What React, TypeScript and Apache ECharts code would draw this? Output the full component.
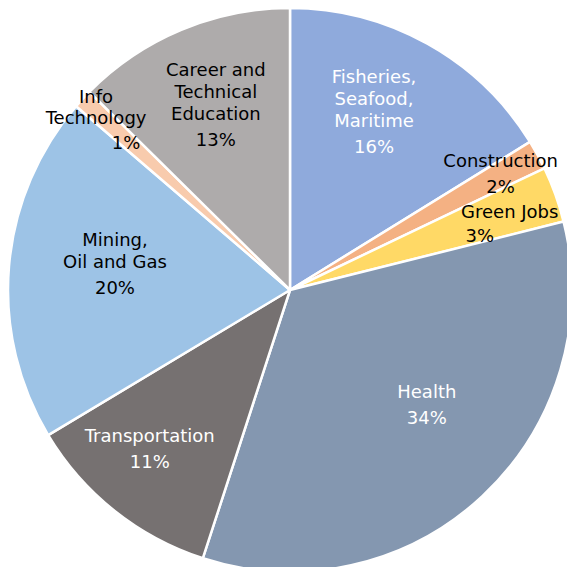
import React, { useEffect, useRef } from "react";
import * as echarts from "echarts";

// Data (clockwise from 12 o'clock)
const categories = [
  "Fisheries,\nSeafood,\nMaritime",
  "Construction",
  "Green Jobs",
  "Health",
  "Transportation",
  "Mining,\nOil and Gas",
  "Info\nTechnology",
  "Career and\nTechnical\nEducation",
];
const shares = [16.2, 1.7, 3.2, 33.9, 11.4, 19.9, 1.1, 12.6];

// Styles
const sliceColors = ["#8FAADC", "#F4B183", "#FFD966", "#8497B0", "#767171", "#9DC3E6", "#F8CBAD", "#AEABAB"];
const labelTones = ["w", "k", "k", "w", "w", "k", "k", "k"];
// label placement: fraction of radius and angle (deg clockwise from top)
const labelRadius = [0.693, 0.85, 0.813, 0.636, 0.755, 0.627, 0.91, 0.702];
const labelAngle = [25.45, 61.5, 73.4, 130.3, 221.2, 278.1, 310.9, 338.0];
const pctShift = [0, 0, -1, 0, 0, 0, 1, 0];

const CX = 290;
const CY = 290;
const R = 282;

export default function App() {
  const ref = useRef<HTMLDivElement>(null);
  useEffect(() => {
    if (!ref.current) return;
    const chart = echarts.init(ref.current, null, { renderer: "svg" });
    const font = "DejaVu Sans";
    const rich: any = {};
    const toneColor: any = { w: "#ffffff", k: "#000000" };
    Object.keys(toneColor).forEach((t) => {
      const c = toneColor[t];
      rich["n" + t] = { color: c, fontFamily: font, fontSize: 18, lineHeight: 22 };
      rich["t" + t] = { color: c, fontFamily: font, fontSize: 18, lineHeight: 20 };
      rich["p" + t] = { color: c, fontFamily: font, fontSize: 18, lineHeight: 30 };
      rich["pr" + t] = { color: c, fontFamily: font, fontSize: 18, lineHeight: 28, padding: [0, 0, 0, 60] };
      rich["pl" + t] = { color: c, fontFamily: font, fontSize: 18, lineHeight: 26, padding: [0, 60, 0, 0] };
    });
    const data = categories.map((name, i) => ({
      name,
      value: shares[i],
      itemStyle: { color: sliceColors[i] },
    }));
    chart.setOption({
      animation: false,
      backgroundColor: "#ffffff",
      series: [
        {
          type: "pie",
          center: [CX, CY],
          radius: [0, R],
          startAngle: 90,
          clockwise: true,
          avoidLabelOverlap: false,
          data,
          itemStyle: { borderColor: "#ffffff", borderWidth: 2.5 },
          emphasis: { disabled: true },
          labelLine: { show: false },
          label: {
            show: true,
            position: "inside",
            fontFamily: font,
            fontSize: 18,
            formatter: (p: any) => {
              const i = p.dataIndex;
              const tone = labelTones[i];
              const lines = String(p.name).split("\n");
              const nameText = lines
                .map((l: string, j: number) => `{${i === 6 && j === 0 ? "t" : "n"}${tone}|${l}}`)
                .join("\n");
              const key = pctShift[i] > 0 ? "pr" : pctShift[i] < 0 ? "pl" : "p";
              return `${nameText}\n{${key}${tone}|${Math.round(p.percent)}%}`;
            },
            rich,
          },
          labelLayout: (params: any) => {
            const i = params.dataIndex;
            const a = (labelAngle[i] * Math.PI) / 180;
            const d = labelRadius[i] * R;
            return {
              x: CX + d * Math.sin(a),
              y: CY - d * Math.cos(a),
              align: "center",
              verticalAlign: "middle",
            };
          },
        },
      ],
    });
    return () => chart.dispose();
  }, []);
  return (
    <div
      ref={ref}
      style={{ position: "fixed", left: 0, top: 0, width: 567, height: 567, background: "#fff" }}
    />
  );
}
